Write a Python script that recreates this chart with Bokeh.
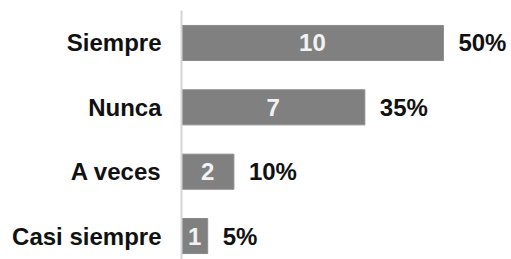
from bokeh.plotting import figure
from bokeh.models import ColumnDataSource, FixedTicker, Range1d
from bokeh.embed import file_html
from bokeh.resources import INLINE
from bokeh.core.properties import value

categories = ["Siempre", "Nunca", "A veces", "Casi siempre"]
counts = [10, 7, 2, 1]
percent_labels = ["50%", "35%", "10%", "5%"]

ypos = [len(categories) - 1 - i for i in range(len(categories))]
src = ColumnDataSource(dict(
    y=ypos,
    count=counts,
    half=[c / 2 for c in counts],
    count_label=[str(c) for c in counts],
    pct=percent_labels,
))

p = figure(width=511, height=259, output_backend="svg", toolbar_location=None,
           x_range=Range1d(0, 12.6), y_range=Range1d(-0.365, 3.505),
           min_border_left=181, min_border_right=0, min_border_top=10, min_border_bottom=0)

p.hbar(y="y", right="count", left=0, height=0.545, source=src,
       fill_color="#808080", line_color="#8a8a8a", line_width=1)

p.text(x="half", y="y", text="count_label", source=src,
       text_align="center", text_baseline="middle",
       text_font=value("Liberation Sans"), text_font_style="bold",
       text_font_size="24px", text_color="#f2f2f2")

p.text(x="count", y="y", text="pct", source=src, x_offset=15,
       text_align="left", text_baseline="middle",
       text_font=value("Liberation Sans"), text_font_style="bold",
       text_font_size="24px", text_color="#111111")

p.xaxis.visible = False
p.xgrid.visible = False
p.ygrid.visible = False
p.outline_line_color = None

ya = p.yaxis[0]
ya.ticker = FixedTicker(ticks=ypos)
ya.major_label_overrides = {y: c for y, c in zip(ypos, categories)}
ya.major_tick_line_color = None
ya.minor_tick_line_color = None
ya.major_tick_out = 0
ya.major_label_standoff = 20
ya.axis_line_color = "#d4d4d4"
ya.axis_line_width = 2
ya.major_label_text_font = "Liberation Sans"
ya.major_label_text_font_style = "bold"
ya.major_label_text_font_size = "24px"
ya.major_label_text_color = "#111111"

open("out.html", "w").write(file_html(p, INLINE))
